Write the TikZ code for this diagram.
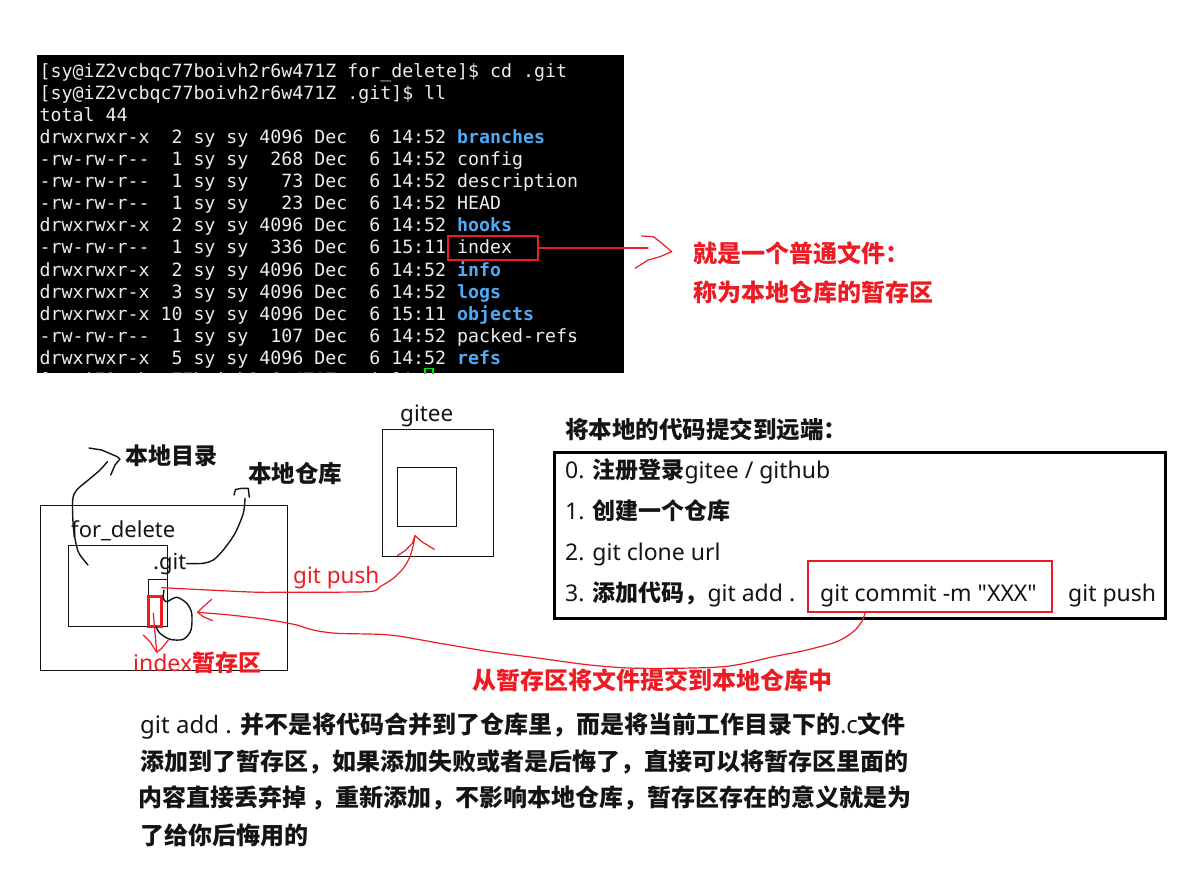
\documentclass[tikz,border=0pt]{standalone}
\usepackage{fontspec}
\setmonofont{DejaVu Sans Mono}
\newfontfamily\cjk{Noto Sans CJK SC}
\newfontfamily\lat{Noto Sans}
\definecolor{pred}{RGB}{237,28,36}
\definecolor{tblue}{RGB}{80,170,245}
\definecolor{tgray}{RGB}{236,236,236}
\definecolor{tgreen}{RGB}{0,230,0}
\definecolor{ink}{RGB}{20,20,20}
\newcommand\fsz[1]{\fontsize{#1}{#1}\selectfont}
\newcommand\Cb{\cjk\bfseries}
\newcommand\db[1]{{\bfseries\color{tblue}#1}}
\begin{document}
\begin{tikzpicture}[x=1pt,y=-1pt,
  term/.style={anchor=base west, inner sep=0pt, text=tgray, font=\ttfamily\fsz{18.25}},
  lab/.style={anchor=base west, inner sep=0pt, text=ink},
  rlab/.style={anchor=base west, inner sep=0pt, text=pred},
  rectnode/.style={draw=ink, inner sep=0pt, anchor=north west, line width=1.3pt},
  hand/.style={draw=ink, line width=1.4pt, line cap=round, line join=round},
  rhand/.style={draw=pred, line width=1.2pt, line cap=round, line join=round}]
\useasboundingbox (0,0) rectangle (1190,877);
\fill[white] (0,0) rectangle (1190,877);

% ---------- terminal ----------
\fill[black] (37,55) rectangle (624,373);
\node[term] (t1) at (39.5,78) {[sy@iZ2vcbqc77boivh2r6w471Z for\_delete]\$ cd .git};
\node[term] (t2) at (39.5,100) {[sy@iZ2vcbqc77boivh2r6w471Z .git]\$ ll};
\node[term] (t3) at (39.5,122) {total 44};
\node[term] (t4) at (39.5,144) {drwxrwxr-x~~2 sy sy 4096 Dec~~6 14:52 \db{branches}};
\node[term] (t5) at (39.5,166) {-rw-rw-r--~~1 sy sy~~268 Dec~~6 14:52 config};
\node[term] (t6) at (39.5,188) {-rw-rw-r--~~1 sy sy~~~73 Dec~~6 14:52 description};
\node[term] (t7) at (39.5,210) {-rw-rw-r--~~1 sy sy~~~23 Dec~~6 14:52 HEAD};
\node[term] (t8) at (39.5,232) {drwxrwxr-x~~2 sy sy 4096 Dec~~6 14:52 \db{hooks}};
\node[term] (t9) at (39.5,254) {-rw-rw-r--~~1 sy sy~~336 Dec~~6 15:11 index};
\node[term] (t10) at (39.5,276) {drwxrwxr-x~~2 sy sy 4096 Dec~~6 14:52 \db{info}};
\node[term] (t11) at (39.5,298) {drwxrwxr-x~~3 sy sy 4096 Dec~~6 14:52 \db{logs}};
\node[term] (t12) at (39.5,320) {drwxrwxr-x 10 sy sy 4096 Dec~~6 15:11 \db{objects}};
\node[term] (t13) at (39.5,342) {-rw-rw-r--~~1 sy sy~~107 Dec~~6 14:52 packed-refs};
\node[term] (t14) at (39.5,364) {drwxrwxr-x~~5 sy sy 4096 Dec~~6 14:52 \db{refs}};
\begin{scope}
  \clip (37,55) rectangle (624,373);
  \node[term] (t15) at (39.5,386) {[sy@iZ2vcbqc77boivh2r6w471Z .git]\$};
  \draw[tgreen, line width=1.5pt] (425,368.5) rectangle (433,390);
\end{scope}

% index highlight and note
\node[draw=pred, line width=2pt, inner sep=0pt, minimum width=90pt, minimum height=24pt] (idx) at (493,248) {};
\coordinate (noteA) at (648,248);
\draw[rhand] (idx.east) -- (noteA);
\draw[rhand] (641.7,236) -- (653.3,236.7) -- (660,241.7) -- (671.7,251.7) -- (660,256.7) -- (648.3,260) -- (635,268.3);
\node[rlab, font=\Cb\fsz{24}] (n1) at (693,262) {就是一个普通文件：};
\node[rlab, font=\Cb\fsz{24}] (n2) at (693,301) {称为本地仓库的暂存区};

% ---------- local diagram ----------
\node[rectnode, minimum width=247pt, minimum height=165pt] (outer) at (40,505) {};
\node[rectnode, minimum width=99pt, minimum height=81pt] (fd) at (68,545) {};
\node[rectnode, minimum width=19pt, minimum height=47pt] (gitbox) at (148,579) {};
\node[draw=pred, line width=3pt, inner sep=0pt, anchor=north west, minimum width=13pt, minimum height=30pt] (idx2) at (147,595) {};

\node[lab, font=\Cb\fsz{23}] (ld) at (125,464) {本地目录};
\node[lab, font=\Cb\fsz{23.5}] (lr) at (248,482) {本地仓库};
\node[lab, font=\lat\fsz{22}] (fdl) at (71,537) {for\_delete};
\node[lab, font=\lat\fsz{22}] (gitl) at (153,569) {.git};
\node[rlab, font=\fsz{23}] (idxl) at (133,671) {{\lat index}{\Cb 暂存区}};

% curve to 本地目录
\coordinate (ldA) at (88,565);
\coordinate (ldT) at (120,459);
\draw[hand] plot[smooth] coordinates {(ldA) (80,555) (76.7,546.7) (73.3,526.7) (72.7,500) (76.7,490) (88.3,480) (100,470) (107.3,461.7)};
\draw[hand] (89,448) -- (101.7,450) -- (117.3,456.7) -- (ldT) -- (115,465) -- (110.7,475);

% curve to 本地仓库
\coordinate (lrT) at (245,498.3);
\draw[hand] plot[smooth] coordinates {(gitl.east) (203.3,563.3) (213.3,560) (223.3,550) (235,533.3) (243.3,513.3) (lrT)};
\draw[hand] (234,495) -- (235.5,489.5) -- (241.7,488.3) -- (248.3,488.3) -- (249.3,497.3);

% loop around .git
\draw[hand] plot[smooth] coordinates {(164,590) (163.3,598.3) (166.7,601.7) (176.7,597.3) (186.7,603.3) (191.7,613.3) (191,630) (183.3,639.3) (170,639.3) (160,633.3) (156,626.7)};

% red arrow down to index label
\coordinate (idxT) at (156.7,652.3);
\draw[rhand] (153.3,613.3) -- (idxT);
\draw[rhand] (143.3,635) -- (150,641.7) -- (idxT) -- (161.7,648.3) -- (168.3,640);

% ---------- gitee ----------
\node[lab, font=\lat\fsz{22.5}] (giteel) at (400,421) {gitee};
\node[rectnode, minimum width=111pt, minimum height=127pt] (gout) at (382,429) {};
\node[rectnode, minimum width=59pt, minimum height=59pt] (gin) at (397,467) {};

% git push
\coordinate (gpS) at (161.7,587.7);
\coordinate (gpT) at (415,535.7);
\draw[rhand] plot[smooth, tension=0.4] coordinates {(gpS) (250,592) (280,592.3) (368.3,591.7) (380,586.7) (393.3,578.3) (403.3,568.3) (410,556.7) (413.3,545) (gpT)};
\draw[rhand] (397.3,555.7) -- (405,550.7) -- (412.3,543.3) -- (gpT) -- (421.7,541.7) -- (434.3,549.3);
\node[rlab, font=\lat\fsz{22.5}] (gpl) at (293,583) {git push};

% ---------- steps ----------
\node[lab, font=\Cb\fsz{23.5}] (title) at (565,438) {将本地的代码提交到远端：};
\node[draw=black, line width=3pt, inner sep=0pt, anchor=north west, minimum width=611pt, minimum height=166pt] (steps) at (553,451) {};
\node[lab, font=\fsz{23}] (s0) at (565,478) {{\lat 0. }{\Cb 注册登录}{\lat gitee / github}};
\node[lab, font=\fsz{23}] (s1) at (565,519.5) {{\lat 1. }{\Cb 创建一个仓库}};
\node[lab, font=\fsz{23}] (s2) at (565,560) {{\lat 2. git clone url}};
\node[lab, font=\fsz{23}] (s3) at (565,601) {{\lat 3. }{\Cb 添加代码，}{\lat git add .}};
\node[draw=pred, line width=2.5pt, inner sep=0pt, minimum width=244pt, minimum height=51pt] (cm) at (930,586.5) {};
\node[lab, font=\lat\fsz{23}] (cmt) at (820,601) {git commit -m "XXX"};
\node[lab, font=\lat\fsz{23}] (s3b) at (1068,601) {git push};

% commit -> local repo
\coordinate (cmT) at (197.7,612.3);
\draw[rhand] plot[smooth, tension=0.5] coordinates {([xshift=-65pt]cm.south) (861.7,621.7) (853.3,631.7) (836.7,641.7) (806.7,650) (773.3,656.7) (723.3,666.7) (640,668.3) (590,665) (540,658.3) (490,651.7) (440,643.3) (390,635) (336.7,633.3) (313.3,630) (296.7,625) (280,621.7) (263.3,619) (230,615) (cmT)};
\draw[rhand] (211.7,599.3) -- (203.3,606.7) -- (cmT) -- (203.3,616.7) -- (212.7,620.7);
\node[rlab, font=\Cb\fsz{24}] (cml) at (472,689) {从暂存区将文件提交到本地仓库中};

% ---------- explanation ----------
\node[lab, font=\fsz{24}] (e1) at (140,733) {{\lat git add . }{\Cb 并不是将代码合并到了仓库里，而是将当前工作目录下的}{\lat .c}{\Cb 文件}};
\node[lab, font=\fsz{24}] (e2) at (140,770) {{\Cb 添加到了暂存区，如果添加失败或者是后悔了，直接可以将暂存区里面的}};
\node[lab, font=\fsz{24}] (e3) at (138,806) {{\Cb 内容直接丢弃掉}\hspace{5pt}{\Cb ，重新添加，不影响本地仓库，暂存区存在的意义就是为}};
\node[lab, font=\fsz{24}] (e4) at (140,844) {{\Cb 了给你后悔用的}};
\end{tikzpicture}
\end{document}
